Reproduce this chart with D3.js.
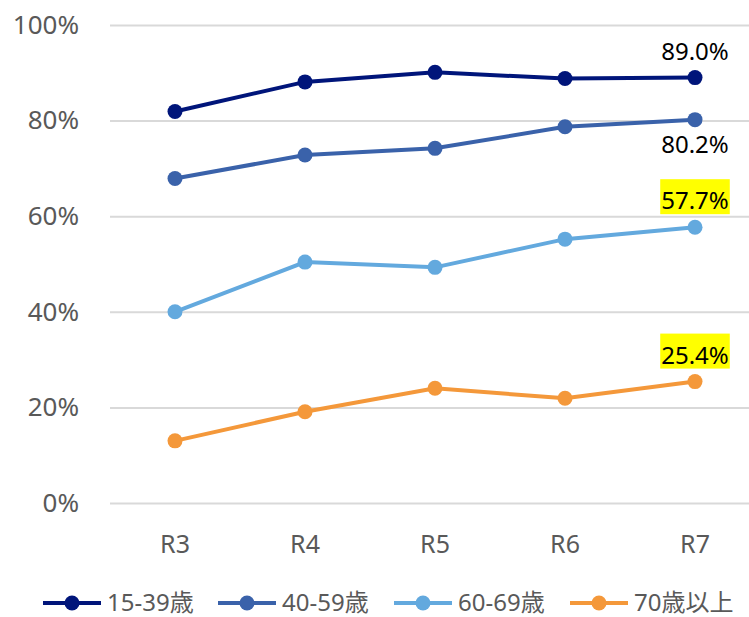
<!DOCTYPE html>
<html>
<head>
<meta charset="utf-8">
<script src="https://cdn.jsdelivr.net/npm/d3@7"></script>
<style>
  body { margin: 0; background: #fff; }
  svg text { font-family: "Noto Sans", "Noto Sans CJK JP", sans-serif; }
</style>
</head>
<body>
<svg id="chart" width="749" height="617"></svg>
<script>
// survey rounds
var rounds = ["R3", "R4", "R5", "R6", "R7"];

// age groups and their rates (share, 0..1)
var groups = ["15-39歳", "40-59歳", "60-69歳", "70歳以上"];
var age15to39 = [0.819, 0.881, 0.901, 0.888, 0.890];
var age40to59 = [0.679, 0.728, 0.742, 0.787, 0.802];
var age60to69 = [0.400, 0.504, 0.493, 0.552, 0.577];
var age70plus = [0.130, 0.191, 0.240, 0.219, 0.254];

var yTicks = [0, 0.2, 0.4, 0.6, 0.8, 1.0];

var colors = ["#00157a", "#3a62aa", "#63a9de", "#f4983a"];

var series = [age15to39, age40to59, age60to69, age70plus];

// only the last point of each line gets a label
var labelBelow = [false, true, false, false];
var labelHighlight = [false, false, true, true];

var svg = d3.select("#chart");

var x = d3.scaleBand().domain(rounds).range([110, 760]);
var y = d3.scaleLinear().domain([0, 1]).range([503, 25]);

// gridlines + y labels
var yAxis = svg.append("g")
    .attr("transform", "translate(110,0)")
    .call(d3.axisLeft(y).tickValues(yTicks).tickSize(-650).tickPadding(31)
        .tickFormat(d3.format(".0%")));
yAxis.select(".domain").remove();
yAxis.selectAll("line").attr("stroke", "#d9d9d9").attr("stroke-width", 2);
yAxis.selectAll("text").attr("fill", "#595959").style("font-size", "26px");

var xAxis = svg.append("g")
    .attr("transform", "translate(0,503)")
    .call(d3.axisBottom(x).tickSize(0).tickPadding(32));
xAxis.select(".domain").remove();
xAxis.selectAll("text").attr("fill", "#595959").style("font-size", "25px");

var line = d3.line()
    .x(function(d, i) { return x(rounds[i]) + x.bandwidth() / 2; })
    .y(function(d) { return y(d); });

series.forEach(function(vals, s) {
    var g = svg.append("g");
    g.append("path")
        .attr("d", line(vals))
        .attr("fill", "none")
        .attr("stroke", colors[s])
        .attr("stroke-width", 4);
    g.selectAll("circle")
        .data(vals)
        .enter()
        .append("circle")
        .attr("cx", function(d, i) { return x(rounds[i]) + x.bandwidth() / 2; })
        .attr("cy", function(d) { return y(d); })
        .attr("r", 7.5)
        .attr("fill", colors[s]);

    var last = vals.length - 1;
    var lx = x(rounds[last]) + x.bandwidth() / 2;
    var ly = labelBelow[s] ? y(vals[last]) + 33 : y(vals[last]) - 18;
    var t = g.append("text")
        .attr("x", lx)
        .attr("y", ly)
        .attr("text-anchor", "middle")
        .attr("fill", "#000")
        .style("font-size", "24px")
        .text(d3.format(".1%")(vals[last]));
    if (labelHighlight[s]) {
        var bb = t.node().getBBox();
        g.insert("rect", "text")
            .attr("x", bb.x - 1)
            .attr("y", ly - 30)
            .attr("width", bb.width + 2)
            .attr("height", 35)
            .attr("fill", "#ffff00");
    }
});

// legend
var legendX = [43, 218, 394, 570];
var legend = svg.append("g").attr("transform", "translate(0,603)");
groups.forEach(function(name, i) {
    var item = legend.append("g").attr("transform", "translate(" + legendX[i] + ",0)");
    item.append("line")
        .attr("x1", 0).attr("x2", 58)
        .attr("stroke", colors[i]).attr("stroke-width", 4);
    item.append("circle")
        .attr("cx", 29).attr("r", 7.5).attr("fill", colors[i]);
    item.append("text")
        .attr("x", 64)
        .attr("y", 8)
        .attr("fill", "#595959")
        .style("font-size", "24px")
        .text(name);
});
</script>
</body>
</html>
